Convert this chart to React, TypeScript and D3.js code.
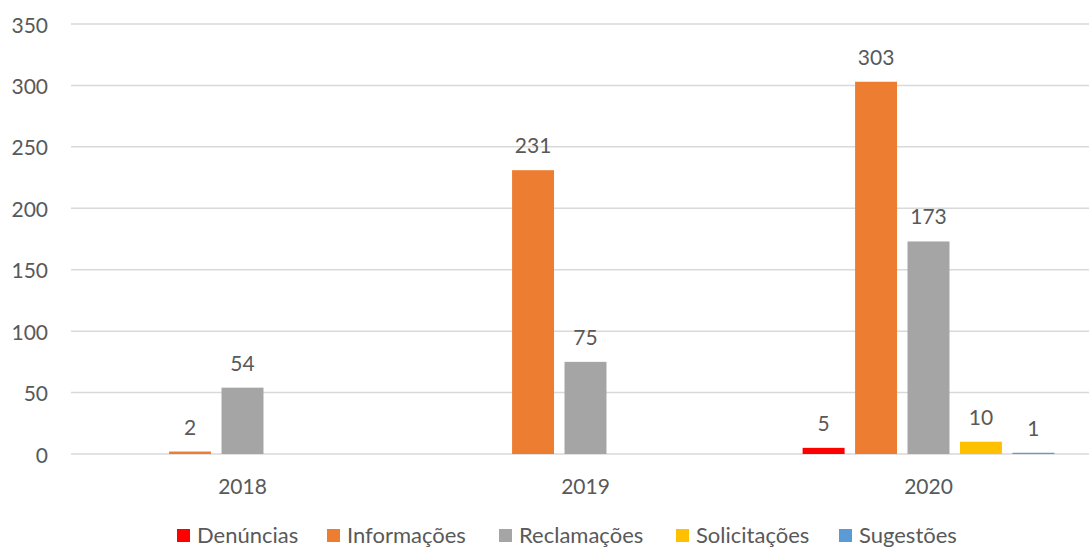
import React from 'react';
import { scaleBand, scaleLinear } from 'd3';

const years = ['2018', '2019', '2020'];
const series = ['Denúncias', 'Informações', 'Reclamações', 'Solicitações', 'Sugestões'];
const colors = ['#ff0000', '#ed7d31', '#a5a5a5', '#ffc000', '#5b9bd5'];
const denuncias = [0, 0, 5];
const informacoes = [2, 231, 303];
const reclamacoes = [54, 75, 173];
const solicitacoes = [0, 0, 10];
const sugestoes = [0, 0, 1];
const yTicks = [0, 50, 100, 150, 200, 250, 300, 350];

const values = [denuncias, informacoes, reclamacoes, solicitacoes, sugestoes];

const width = 1089;
const height = 549;
const font = 'Lato, "Open Sans", sans-serif';
const textColor = '#595959';

export default function App() {
  const x = scaleBand().domain(years).range([71, 1100]);
  const xs = scaleBand().domain(series).range([0, x.bandwidth()]).paddingInner(0.2).paddingOuter(0.87);
  const y = scaleLinear().domain([0, 350]).range([454, 24]);

  // legend layout: marker x positions
  const legendX = [177, 327, 499, 676, 839];

  return (
    <div style={{ position: 'absolute', left: 0, top: 0 }}>
      <svg width={width} height={height} style={{ display: 'block', background: '#fff' }}>
        {yTicks.map((t) => (
          <g key={t}>
            <line x1={71} x2={width} y1={y(t)} y2={y(t)} stroke="#d9d9d9" strokeWidth={1.5} />
            <text x={48} y={y(t)} textAnchor="end" dominantBaseline="central" fontFamily={font} fontSize={21} fill={textColor}>
              {t}
            </text>
          </g>
        ))}
        {years.map((yr, i) => (
          <g key={yr} transform={`translate(${x(yr)},0)`}>
            {series.map((s, j) => {
              const v = values[j][i];
              if (!v) return null;
              return (
                <g key={s}>
                  <rect x={xs(s)} y={y(v)} width={xs.bandwidth()} height={y(0) - y(v)} fill={colors[j]} />
                  <text
                    x={(xs(s) as number) + xs.bandwidth() / 2}
                    y={y(v) - 17}
                    textAnchor="middle"
                    fontFamily={font}
                    fontSize={21}
                    fill={textColor}
                  >
                    {v}
                  </text>
                </g>
              );
            })}
            <text x={x.bandwidth() / 2} y={494} textAnchor="middle" fontFamily={font} fontSize={21} fill={textColor}>
              {yr}
            </text>
          </g>
        ))}
        {series.map((s, j) => (
          <g key={s}>
            <rect x={legendX[j]} y={529} width={13} height={13} fill={colors[j]} />
            <text x={legendX[j] + 20} y={543} fontFamily={font} fontSize={22} fill={textColor}>
              {s}
            </text>
          </g>
        ))}
      </svg>
    </div>
  );
}
